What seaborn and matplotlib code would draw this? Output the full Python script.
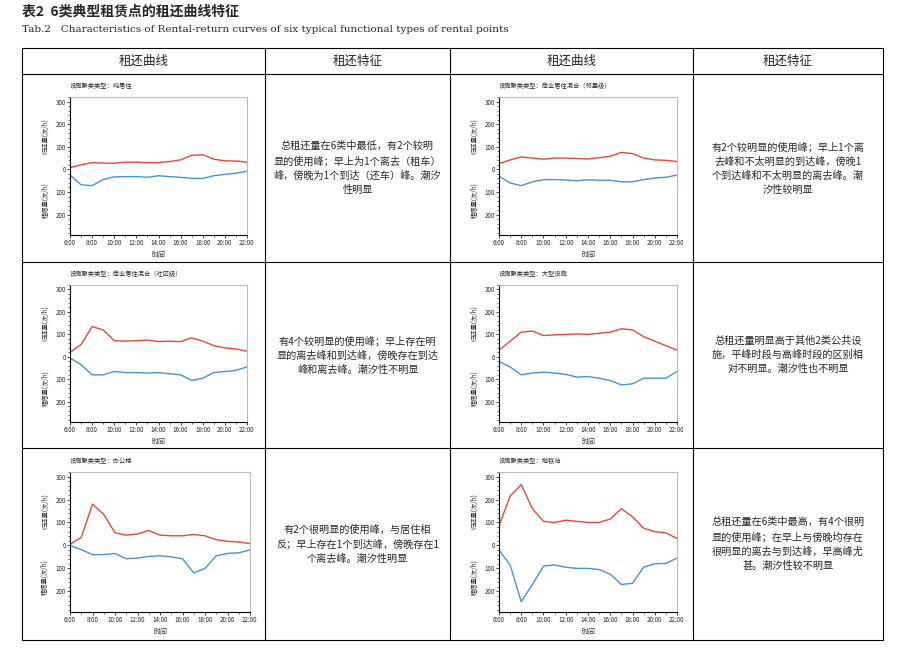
import matplotlib
matplotlib.use("Agg")
import matplotlib.pyplot as plt
import seaborn as sns
import numpy as np
import pandas as pd
from matplotlib.ticker import FuncFormatter, MultipleLocator

sns.set_style("ticks")
plt.rcParams['font.family'] = ['Noto Sans CJK SC', 'DejaVu Sans']

hours = list(range(6, 23))
tick_labels = ["6:00", "8:00", "10:00", "12:00", "14:00", "16:00", "18:00", "20:00", "22:00"]
types = ["纯居住", "商业居住混合（邻里级）", "商业居住混合（社区级）", "大型设施", "办公楼", "地铁站"]
ret_1 = [8, 20, 30, 28, 27, 32, 32, 30, 30, 35, 42, 62, 65, 45, 38, 37, 32]
bor_1 = [25, 68, 72, 45, 33, 32, 32, 35, 28, 32, 35, 40, 40, 28, 22, 17, 8]
ret_2 = [25, 42, 55, 50, 45, 50, 50, 48, 46, 52, 58, 75, 70, 50, 42, 40, 35]
bor_2 = [30, 60, 72, 55, 45, 45, 47, 50, 46, 48, 48, 55, 55, 45, 38, 35, 25]
ret_3 = [20, 55, 135, 120, 72, 70, 72, 75, 68, 70, 68, 85, 70, 50, 40, 35, 25]
bor_3 = [5, 35, 80, 80, 65, 70, 70, 72, 70, 75, 80, 105, 95, 70, 65, 60, 45]
ret_4 = [30, 70, 110, 115, 95, 98, 100, 102, 100, 105, 110, 125, 120, 90, 70, 50, 30]
bor_4 = [20, 45, 80, 72, 68, 72, 78, 90, 88, 95, 105, 125, 120, 95, 95, 95, 65]
ret_5 = [5, 35, 180, 135, 55, 45, 50, 65, 45, 42, 42, 48, 42, 25, 18, 15, 8]
bor_5 = [0, 18, 40, 40, 35, 58, 55, 48, 45, 50, 58, 120, 100, 45, 35, 32, 20]
ret_6 = [85, 215, 265, 160, 105, 100, 110, 105, 100, 100, 115, 160, 125, 75, 60, 55, 30]
bor_6 = [20, 85, 245, 170, 90, 85, 95, 100, 100, 105, 125, 170, 165, 95, 80, 78, 55]
rets = [ret_1, ret_2, ret_3, ret_4, ret_5, ret_6]
bors = [bor_1, bor_2, bor_3, bor_4, bor_5, bor_6]
descs = [
    "总租还量在6类中最低，有2个较明\n显的使用峰；早上为1个离去（租车）\n峰，傍晚为1个到达（还车）峰。潮汐\n性明显",
    "有2个较明显的使用峰；早上1个离\n去峰和不太明显的到达峰，傍晚1\n个到达峰和不太明显的离去峰。潮\n汐性较明显",
    "有4个较明显的使用峰；早上存在明\n显的离去峰和到达峰，傍晚存在到达\n峰和离去峰。潮汐性不明显",
    "总租还量明显高于其他2类公共设\n施，平峰时段与高峰时段的区别相\n对不明显。潮汐性也不明显",
    "有2个很明显的使用峰，与居住相\n反；早上存在1个到达峰，傍晚存在1\n个离去峰。潮汐性明显",
    "总租还量在6类中最高，有4个很明\n显的使用峰；在早上与傍晚均存在\n很明显的离去与到达峰，早高峰尤\n甚。潮汐性较不明显",
]

W, H = 911, 671
fig = plt.figure(figsize=(W / 100, H / 100), dpi=100)
fig.patch.set_facecolor("white")

def fx(x): return x / W
def fy(y): return 1 - y / H

fig.text(fx(22), fy(12), "表2  6类典型租赁点的租还曲线特征", fontsize=10, fontweight="bold", va="center")
fig.text(fx(22), fy(29), "Tab.2   Characteristics of Rental-return curves of six typical functional types of rental points",
         fontsize=7.5, va="center", family=["DejaVu Serif"])

cols = [22, 265, 450, 693, 883]
rows = [48, 74, 262, 448, 640]
lk = dict(color="black", lw=0.8, transform=fig.transFigure)
for y in rows:
    fig.add_artist(plt.Line2D([fx(22), fx(883)], [fy(y), fy(y)], **lk))
for x in cols:
    fig.add_artist(plt.Line2D([fx(x), fx(x)], [fy(48), fy(640)], **lk))
heads = ["租还曲线", "租还特征", "租还曲线", "租还特征"]
for i, h in enumerate(heads):
    fig.text(fx((cols[i] + cols[i + 1]) / 2), fy(61), h, ha="center", va="center", fontsize=9)

axes_pos = [(70, 97, 247, 235), (499, 97, 677, 235),
            (70, 285, 247, 422), (499, 285, 677, 422),
            (70, 472, 250, 612), (499, 472, 677, 612)]
red, blue = "#e8483a", "#4a92d0"
for k in range(6):
    l, t, r, b = axes_pos[k]
    ax = fig.add_axes([fx(l), fy(b), (r - l) / W, (b - t) / H])
    df = pd.DataFrame({"h": hours, "ret": rets[k], "bor": [-v for v in bors[k]]})
    sns.lineplot(data=df, x="h", y="ret", ax=ax, color=red, lw=1)
    sns.lineplot(data=df, x="h", y="bor", ax=ax, color=blue, lw=1)
    ax.set_xlim(6, 22)
    ax.set_ylim(-290, 320)
    ax.set_xticks(range(6, 23, 2))
    ax.set_xticklabels(tick_labels)
    ax.xaxis.set_minor_locator(MultipleLocator(1))
    ax.set_yticks([-200, -100, 0, 100, 200, 300])
    ax.yaxis.set_major_formatter(FuncFormatter(lambda v, p: f"{abs(int(v))}"))
    ax.yaxis.set_minor_locator(MultipleLocator(20))
    ax.tick_params(labelsize=4.5, length=2, width=0.6, pad=1)
    ax.tick_params(which="minor", length=1.2, width=0.5)
    for s in ["top", "right"]:
        ax.spines[s].set_visible(True)
        ax.spines[s].set_color("#bbbbbb")
    for s in ["left", "bottom"]:
        ax.spines[s].set_color("black")
        ax.spines[s].set_linewidth(0.8)
    ax.set_xlabel("时间", fontsize=5, labelpad=3)
    ax.set_ylabel("")
    ax.text(-0.14, 0.72, "归还量(次/h)", rotation=90, transform=ax.transAxes, fontsize=4.5, ha="center", va="center")
    ax.text(-0.14, 0.25, "租借量(次/h)", rotation=90, transform=ax.transAxes, fontsize=4.5, ha="center", va="center")
    ax.text(0.0, 1.05, "设施聚类类型：" + types[k], transform=ax.transAxes, fontsize=4.5, ha="left", va="bottom")
    row = k // 2
    c0, c1 = (cols[1], cols[2]) if k % 2 == 0 else (cols[3], cols[4])
    fig.text(fx((c0 + c1) / 2), fy((rows[row + 1] + rows[row + 2]) / 2), descs[k],
             ha="center", va="center", fontsize=7.3, linespacing=1.5)

fig.savefig("out.png", dpi=100)
